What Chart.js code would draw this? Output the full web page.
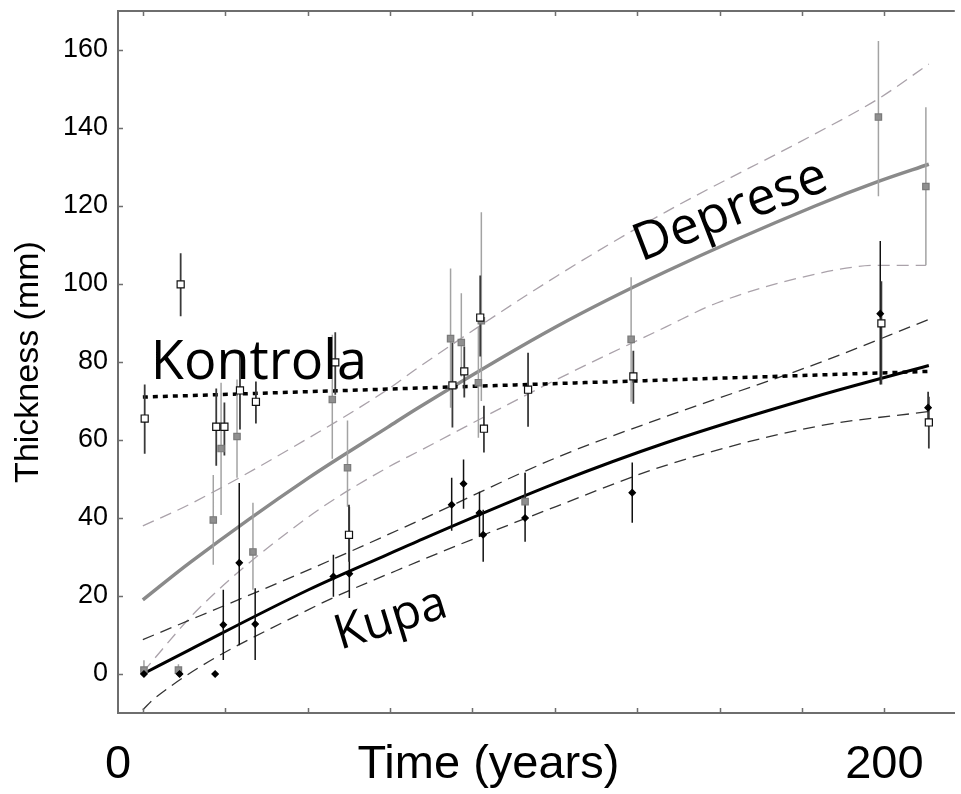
<!DOCTYPE html>
<html>
<head>
<meta charset="utf-8">
<script src="https://cdn.jsdelivr.net/npm/chart.js@4.4.1/dist/chart.umd.min.js"></script>
<style>
  html, body { margin: 0; padding: 0; background: #fff; }
  #wrap { width: 961px; height: 794px; }
</style>
</head>
<body>
<div id="wrap"><canvas id="chart" width="961" height="794"></canvas></div>
<script>
// axis ranges (years / mm)
const X_MIN = -6.7;
const X_MAX = 219;
const Y_MIN = -10;
const Y_MAX = 170;
const xTickValues = [0, 200 / 9, 400 / 9, 600 / 9, 800 / 9, 1000 / 9, 1200 / 9, 1400 / 9, 1600 / 9, 200];
const xTickLabels = ["0", "200"];
const yTickValues = [0, 20, 40, 60, 80, 100, 120, 140, 160];

// Kontrola: open squares
const kontrolaX  = [0.5, 10.2, 19.8, 22.0, 26.2, 30.5, 51.9, 55.6, 83.5, 86.7, 91.0, 92.0, 103.9, 132.3, 199.2, 212.0];
const kontrolaY  = [65.5, 99.9, 63.4, 63.4, 72.7, 69.8, 79.9, 35.7, 74.0, 77.6, 91.4, 62.9, 72.9, 76.3, 89.9, 64.5];
const kontrolaLo = [56.5, 91.7, 53.4, 56.0, 62.7, 64.2, 71.6, 28.8, 63.2, 70.9, 81.4, 56.8, 63.4, 69.3, 74.2, 57.8];
const kontrolaHi = [74.2, 107.9, 73.2, 69.6, 82.7, 75.0, 87.6, 43.4, 85.0, 84.0, 102.2, 68.8, 82.4, 82.9, 100.7, 71.1];

// Deprese: grey squares
const depreseX  = [0.3, 9.6, 19.0, 21.1, 25.4, 29.7, 51.1, 55.2, 83.0, 85.9, 90.5, 91.3, 103.1, 131.7, 198.4, 211.2];
const depreseY  = [1.0, 1.0, 39.5, 57.8, 60.9, 31.3, 70.4, 52.9, 86.0, 85.0, 74.7, 90.6, 44.2, 85.8, 142.8, 125.0];
const depreseLo = [0.0, 0.0, 28.0, 40.8, 50.3, 21.6, 55.2, 42.9, 68.3, 76.3, 60.6, 70.0, 40.8, 69.8, 122.5, 104.8];
const depreseHi = [3.5, 2.5, 51.0, 74.7, 75.5, 43.9, 87.0, 65.0, 104.0, 97.6, 89.0, 118.4, 51.6, 101.7, 162.3, 145.3];

// Kupa: black diamonds
const kupaX  = [0.3, 9.9, 19.5, 21.7, 26.0, 30.3, 51.4, 55.7, 83.3, 86.5, 90.8, 91.8, 103.1, 132.0, 198.9, 211.8];
const kupaY  = [0, 0, 0, 12.6, 28.5, 12.8, 25.0, 25.7, 43.4, 48.8, 41.3, 35.7, 40.0, 46.5, 92.4, 68.3];
const kupaLo = [0, 0, 0, 3.6, 7.4, 3.6, 19.8, 19.5, 36.7, 42.4, 35.2, 28.8, 33.9, 38.8, 74.2, 65.2];
const kupaHi = [0, 0, 0, 21.6, 49.0, 22.0, 30.6, 42.9, 50.3, 55.0, 46.7, 42.1, 51.6, 54.2, 111.0, 72.4];

// fitted curves
const kontrolaFitX = [0, 212];
const kontrolaFitY = [71.0, 77.6];

const kupaFitX = [0, 12.6, 44.7, 66.1, 74.2, 111.6, 141.1, 181.3, 212];
const kupaFitY = [0, 6.2, 21.6, 30.7, 34.1, 49.0, 59.3, 71.1, 79.1];
const kupaUpX = [0, 44.7, 74.2, 111.6, 141.1, 181.3, 212];
const kupaUpY = [8.8, 26.7, 39.2, 55.5, 66.0, 79.4, 90.9];
const kupaLowX = [0, 3.2, 44.7, 74.2, 111.6, 141.1, 181.3, 212];
const kupaLowY = [-9.2, -6.2, 16.5, 28.8, 43.0, 53.5, 63.4, 67.3];

const depreseFitX = [0, 12.6, 44.7, 66.1, 74.2, 111.6, 141.1, 181.3, 198.4, 212];
const depreseFitY = [19.0, 28.5, 50.3, 63.3, 68.2, 89.1, 103.2, 120.0, 126.3, 130.7];
const depreseUpX = [0, 12.6, 44.7, 66.1, 74.2, 111.6, 141.1, 181.3, 198.4, 212];
const depreseUpY = [38.0, 43.5, 60.5, 73.0, 78.5, 102.0, 118.5, 138.5, 147.5, 156.4];
const depreseLowX = [0, 15.3, 44.7, 66.1, 74.2, 111.6, 141.1, 154.5, 181.3, 198.4, 211.2];
const depreseLowY = [0.5, 17.0, 40.3, 53.0, 57.0, 75.5, 89.0, 95.0, 102.5, 104.8, 104.8];

// in-plot group names
const noteText = ["Kontrola", "Deprese", "Kupa"];
const noteX = [31.3, 158.5, 66.9];
const noteY = [79.6, 118.6, 13.9];
const xTitle = "Time (years)";
const xTitleAt = 93.2;

const AXIS_FONT = "'Liberation Sans', Arial, sans-serif";
const NOTE_FONT = "'Open Sans', 'Noto Sans', sans-serif";
const AXIS_GREY = "#6e6e6e";

function points(xs, ys) {
  return xs.map((x, i) => ({ x, y: ys[i] }));
}

// each error bar is a two-point segment, broken from the next by a null
function bars(xs, lo, hi) {
  const out = [];
  xs.forEach((x, i) => out.push({ x, y: lo[i] }, { x, y: hi[i] }, { x, y: null }));
  return out;
}

function markers(data, style, radius, fill, border) {
  return { data, showLine: false, pointStyle: style, pointRadius: radius,
    backgroundColor: fill, borderColor: border, borderWidth: 1.2 };
}

function errorBars(data, color, width) {
  return { data, showLine: true, spanGaps: false, pointRadius: 0, tension: 0,
    borderColor: color, borderWidth: width };
}

function curve(data, color, width, dash) {
  return { data, showLine: true, pointRadius: 0, tension: 0.4,
    cubicInterpolationMode: "monotone", borderColor: color, borderWidth: width,
    borderDash: dash || [] };
}

// the axes reserve their own edge padding; the frame here is fixed instead
function noEdgePadding(axis) {
  axis.paddingTop = 0;
  axis.paddingBottom = 0;
  axis.paddingLeft = 0;
  axis.paddingRight = 0;
}

const frame = {
  id: "frame",
  afterDraw(chart) {
    const { ctx, chartArea: a, scales: { x, y } } = chart;
    ctx.save();
    ctx.strokeStyle = AXIS_GREY;
    ctx.lineWidth = 2;
    ctx.beginPath();
    ctx.moveTo(a.left, a.top);
    ctx.lineTo(a.right, a.top);
    ctx.stroke();
    ctx.lineWidth = 1.5;
    ctx.beginPath();
    for (const v of xTickValues) {
      const px = Math.round(x.getPixelForValue(v)) + 0.5;
      ctx.moveTo(px, a.bottom);
      ctx.lineTo(px, a.bottom - 5);
      ctx.moveTo(px, a.top);
      ctx.lineTo(px, a.top + 5);
    }
    for (const v of yTickValues) {
      const py = Math.round(y.getPixelForValue(v)) + 0.5;
      ctx.moveTo(a.left, py);
      ctx.lineTo(a.left + 5, py);
    }
    ctx.stroke();

    ctx.fillStyle = "#000";
    ctx.font = `47px ${AXIS_FONT}`;
    ctx.textAlign = "center";
    ctx.textBaseline = "middle";
    ctx.fillText(xTitle, x.getPixelForValue(xTitleAt), x.top + 24 + 28.2);
    ctx.restore();
  },
  afterDatasetsDraw(chart) {
    const { ctx, scales: { x, y } } = chart;
    const sizes = [54, 52, 48];
    const angles = [0, -21, -17];
    ctx.save();
    ctx.fillStyle = "#000";
    ctx.textAlign = "center";
    ctx.textBaseline = "middle";
    noteText.forEach((t, i) => {
      ctx.save();
      ctx.translate(x.getPixelForValue(noteX[i]), y.getPixelForValue(noteY[i]));
      ctx.rotate(angles[i] * Math.PI / 180);
      ctx.font = `${sizes[i]}px ${NOTE_FONT}`;
      ctx.fillText(t, 0, 0);
      ctx.restore();
    });
    ctx.restore();
  },
};

new Chart(document.getElementById("chart"), {
  type: "scatter",
  data: {
    datasets: [
      markers(points(kontrolaX, kontrolaY), "rect", 5, "#ffffff", "#111111"),
      markers(points(kupaX, kupaY), "rectRot", 3.2, "#000000", "#000000"),
      markers(points(depreseX, depreseY), "rect", 4.5, "#8f8f8f", "#7a7a7a"),
      errorBars(bars(kontrolaX, kontrolaLo, kontrolaHi), "#3a3a3a", 1.8),
      errorBars(bars(kupaX, kupaLo, kupaHi), "#111111", 1.5),
      errorBars(bars(depreseX, depreseLo, depreseHi), "#a3a3a3", 1.5),
      curve(points(kontrolaFitX, kontrolaFitY), "#000000", 3.5, [5, 5]),
      curve(points(kupaFitX, kupaFitY), "#000000", 3),
      curve(points(kupaUpX, kupaUpY), "#333333", 1.3, [12, 7]),
      curve(points(kupaLowX, kupaLowY), "#333333", 1.3, [12, 7]),
      curve(points(depreseFitX, depreseFitY), "#8a8a8a", 3.5),
      curve(points(depreseUpX, depreseUpY), "#aaa2aa", 1.3, [12, 7]),
      curve(points(depreseLowX, depreseLowY), "#aaa2aa", 1.3, [12, 7]),
    ],
  },
  options: {
    responsive: false,
    animation: false,
    events: [],
    layout: { padding: { top: 11, right: 0, bottom: 0, left: 0 } },
    plugins: { legend: { display: false }, tooltip: { enabled: false } },
    scales: {
      x: {
        type: "linear",
        min: X_MIN,
        max: X_MAX,
        afterBuildTicks: axis => { axis.ticks = [X_MIN, ...xTickValues].map(value => ({ value })); },
        afterFit: axis => { noEdgePadding(axis); axis.height = 81; },
        ticks: {
          autoSkip: false,
          maxRotation: 0,
          padding: 24,
          color: "#000",
          font: { family: AXIS_FONT, size: 47 },
          callback: (v, i, all) => i === 0 ? xTickLabels[0] : i === all.length - 1 ? xTickLabels[1] : "",
        },
        grid: { display: false, drawTicks: false },
        border: { display: true, color: AXIS_GREY, width: 2 },
      },
      y: {
        min: Y_MIN,
        max: Y_MAX,
        afterBuildTicks: axis => { axis.ticks = yTickValues.map(value => ({ value })); },
        afterFit: axis => { noEdgePadding(axis); axis.width = 118; },
        ticks: {
          padding: 10,
          color: "#000",
          font: { family: AXIS_FONT, size: 27 },
        },
        grid: { display: false, drawTicks: false },
        border: { display: true, color: AXIS_GREY, width: 2 },
        title: {
          display: true,
          text: "Thickness (mm)",
          color: "#000",
          font: { family: AXIS_FONT, size: 34 },
          padding: { top: 8, bottom: 4 },
        },
      },
    },
  },
  plugins: [frame],
});
</script>
</body>
</html>
